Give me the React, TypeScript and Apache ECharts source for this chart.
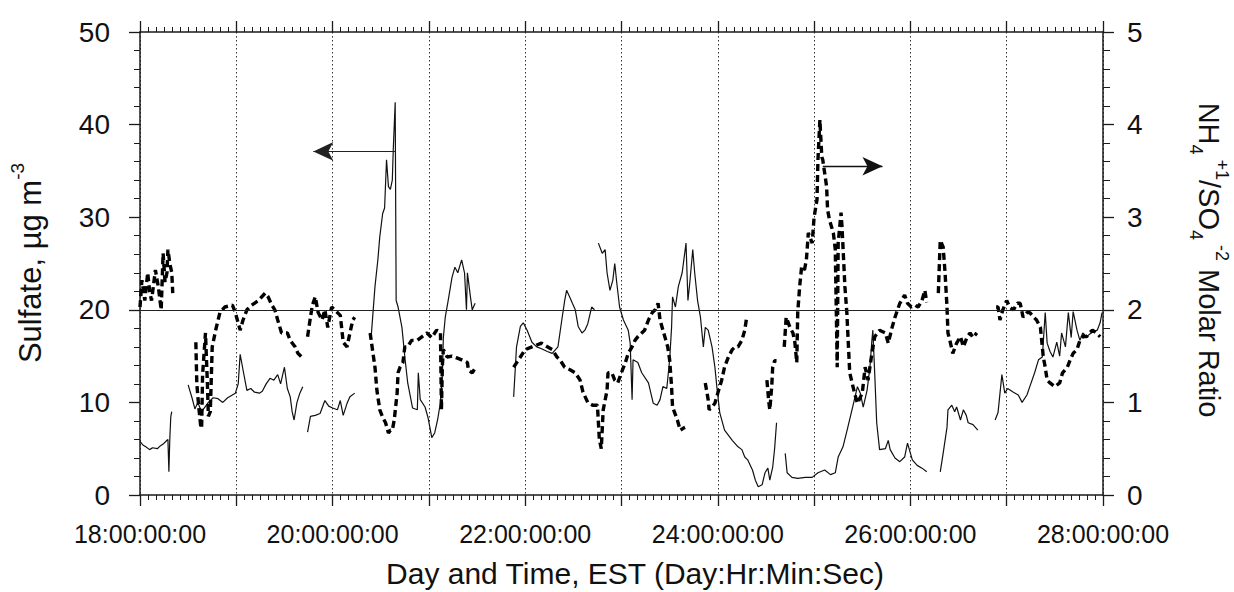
import React, { useEffect, useRef } from 'react';
import * as echarts from 'echarts';

const FONT = '"Liberation Sans", Arial, Helvetica, sans-serif';

// x axis: day of month; labelled every two days
const labelledDays = [18, 20, 22, 24, 26, 28];

// Sulfate (µg m-3), thin solid line, left axis. null = gap in record
const sulfatePts: [number, number | null][] = [
  [18.00, 5.8], [18.03, 5.4], [18.06, 5.2], [18.10, 4.9], [18.13, 5.1], [18.18, 5.0], [18.21, 5.3], [18.24, 5.5], [18.27, 5.8], [18.29, 6.0], [18.30, 2.5], [18.31, 6.2], [18.32, 8.5], [18.33, 9.0],
  [18.40, null],
  [18.50, 11.9], [18.54, 10.5], [18.57, 9.3], [18.60, 10.0], [18.64, 9.0], [18.71, 10.0], [18.76, 10.5], [18.81, 10.4], [18.86, 10.0], [18.91, 10.5], [18.99, 11.0], [19.02, 12.0], [19.04, 15.2], [19.07, 13.5], [19.11, 11.3], [19.15, 11.5], [19.19, 11.1], [19.24, 11.0], [19.27, 11.2], [19.31, 12.0], [19.35, 12.6], [19.39, 12.4], [19.43, 13.0], [19.46, 12.0], [19.50, 13.8], [19.53, 11.5], [19.56, 10.6], [19.58, 9.0], [19.60, 8.1], [19.63, 10.0], [19.66, 11.0], [19.69, 11.7],
  [19.72, null],
  [19.74, 6.8], [19.77, 8.5], [19.82, 8.6], [19.87, 8.8], [19.92, 10.2], [19.96, 9.6], [20.00, 9.4], [20.05, 9.2], [20.08, 10.2], [20.11, 8.6], [20.15, 9.9], [20.18, 10.6], [20.23, 11.0],
  [20.30, null],
  [20.40, 17.0], [20.44, 22.5], [20.47, 25.4], [20.49, 27.9], [20.52, 30.4], [20.54, 31.0], [20.56, 36.2], [20.58, 33.3], [20.60, 33.0], [20.62, 34.0], [20.63, 37.3], [20.65, 42.4], [20.66, 21.0], [20.68, 20.3], [20.72, 18.1], [20.75, 14.9], [20.78, 12.1], [20.83, 9.4], [20.88, 9.2], [20.89, 13.2], [20.91, 10.3], [20.96, 9.5], [20.99, 8.4], [21.03, 6.2], [21.06, 6.7], [21.09, 8.1], [21.12, 10.0], [21.14, 13.0], [21.15, 17.0], [21.17, 19.2], [21.20, 21.0], [21.24, 23.5], [21.27, 24.6], [21.30, 24.0], [21.34, 25.4], [21.37, 24.0], [21.39, 20.0], [21.40, 24.0], [21.43, 21.5], [21.45, 20.0], [21.48, 20.7],
  [21.70, null],
  [21.88, 10.6], [21.91, 16.0], [21.95, 18.2], [21.98, 18.6], [22.02, 17.8], [22.07, 16.5], [22.12, 16.0], [22.17, 15.8], [22.23, 15.5], [22.28, 15.3], [22.34, 16.0], [22.38, 18.9], [22.41, 21.0], [22.43, 22.1], [22.47, 21.2], [22.49, 20.7], [22.52, 20.0], [22.55, 18.2], [22.59, 17.5], [22.62, 17.8], [22.65, 18.5], [22.69, 20.3], [22.72, 20.0],
  [22.74, null],
  [22.76, 27.2], [22.80, 26.1], [22.83, 26.5], [22.85, 24.0], [22.88, 22.1], [22.91, 23.2], [22.93, 25.0], [22.95, 23.0], [22.98, 20.3], [23.02, 18.9], [23.07, 17.8], [23.09, 16.4], [23.11, 10.3], [23.12, 14.6], [23.17, 14.3], [23.21, 13.2], [23.28, 12.1], [23.33, 9.9], [23.37, 9.7], [23.40, 10.3], [23.43, 11.7], [23.47, 11.5], [23.50, 14.6], [23.52, 18.1], [23.53, 21.4], [23.56, 20.3], [23.59, 22.5], [23.63, 24.0], [23.67, 27.2], [23.69, 21.0], [23.71, 23.0], [23.74, 26.5], [23.76, 24.0], [23.79, 21.0], [23.82, 19.2], [23.85, 16.0], [23.87, 18.1], [23.90, 17.8], [23.94, 16.0], [23.97, 13.8], [23.99, 11.7], [24.02, 8.9], [24.07, 7.0], [24.15, 5.9], [24.21, 5.2], [24.25, 4.9], [24.28, 4.1], [24.31, 3.8], [24.36, 2.7], [24.39, 1.6], [24.42, 0.9], [24.46, 1.1], [24.49, 2.4], [24.52, 2.9], [24.54, 1.6], [24.57, 3.0], [24.59, 5.0], [24.61, 7.8],
  [24.65, null],
  [24.70, 4.5], [24.72, 2.4], [24.77, 1.9], [24.83, 1.8], [24.91, 1.9], [24.98, 1.9], [25.04, 2.4], [25.11, 2.7], [25.17, 2.2], [25.22, 2.4], [25.25, 4.1], [25.30, 5.2], [25.35, 7.3], [25.40, 9.5], [25.45, 11.7], [25.48, 11.0], [25.51, 9.5], [25.55, 11.3], [25.58, 13.8], [25.60, 16.7], [25.61, 17.8], [25.63, 13.0], [25.65, 7.8], [25.68, 4.9], [25.74, 5.0], [25.77, 5.9], [25.79, 4.9], [25.84, 4.0], [25.89, 3.6], [25.94, 4.1], [25.97, 5.6], [26.02, 3.8], [26.07, 3.2], [26.12, 2.9], [26.17, 2.5],
  [26.25, null],
  [26.31, 2.5], [26.34, 4.5], [26.38, 7.3], [26.39, 9.2], [26.43, 9.7], [26.46, 9.0], [26.48, 9.5], [26.52, 8.1], [26.55, 9.2], [26.58, 8.6], [26.60, 7.8], [26.65, 7.6], [26.70, 7.0],
  [26.80, null],
  [26.88, 8.1], [26.91, 8.9], [26.95, 13.0], [26.98, 11.0], [27.01, 11.5], [27.07, 11.1], [27.12, 10.8], [27.16, 10.0], [27.21, 10.8], [27.24, 11.7], [27.29, 13.2], [27.33, 14.6], [27.37, 14.9], [27.40, 19.7], [27.42, 16.4], [27.45, 15.5], [27.48, 14.9], [27.52, 16.5], [27.55, 15.0], [27.57, 17.5], [27.61, 16.0], [27.64, 19.7], [27.67, 17.0], [27.69, 19.8], [27.73, 17.8], [27.76, 16.7], [27.79, 17.5], [27.83, 17.1], [27.89, 17.6], [27.94, 17.8], [27.97, 18.6], [27.99, 19.7],
];

// NH4+/SO4= molar ratio, thick dashed line, right axis. null = gap
const ratioPts: [number, number | null][] = [
  [18.00, 2.03], [18.02, 2.32], [18.05, 2.1], [18.08, 2.4], [18.10, 2.2], [18.12, 2.1], [18.16, 2.43], [18.19, 2.25], [18.22, 2.0], [18.24, 2.61], [18.26, 2.3], [18.28, 2.4], [18.29, 2.65], [18.31, 2.5], [18.33, 2.4], [18.34, 2.18],
  [18.45, null],
  [18.58, 1.65], [18.59, 1.2], [18.61, 0.95], [18.63, 0.75], [18.64, 0.72], [18.65, 1.3], [18.68, 1.75], [18.70, 1.2], [18.71, 0.85], [18.73, 0.9], [18.75, 1.6], [18.79, 1.8], [18.83, 1.97], [18.88, 2.03], [18.96, 2.05], [18.99, 1.97], [19.04, 1.78], [19.07, 1.89], [19.11, 2.0], [19.16, 2.05], [19.23, 2.1], [19.30, 2.18], [19.33, 2.14], [19.37, 2.05], [19.40, 2.0], [19.43, 1.89], [19.47, 1.75], [19.53, 1.75], [19.56, 1.67], [19.61, 1.6], [19.64, 1.53], [19.68, 1.49],
  [19.71, null],
  [19.74, 1.71], [19.77, 1.92], [19.79, 2.05], [19.82, 2.14], [19.85, 1.97], [19.89, 1.89], [19.92, 2.0], [19.95, 1.81], [19.99, 2.03], [20.02, 2.0], [20.08, 1.94], [20.11, 1.65], [20.15, 1.6], [20.18, 1.75], [20.21, 1.89], [20.23, 1.92],
  [20.30, null],
  [20.39, 1.75], [20.41, 1.6], [20.44, 1.38], [20.46, 1.13], [20.49, 0.92], [20.52, 0.84], [20.55, 0.78], [20.58, 0.67], [20.60, 0.7], [20.62, 0.7], [20.64, 0.81], [20.67, 1.1], [20.68, 1.32], [20.70, 1.38], [20.73, 1.43], [20.75, 1.6], [20.78, 1.6], [20.82, 1.67], [20.88, 1.67], [20.93, 1.71], [20.98, 1.75], [21.03, 1.7], [21.08, 1.78], [21.12, 1.76], [21.13, 0.92], [21.14, 1.4], [21.15, 1.57], [21.19, 1.49], [21.24, 1.5], [21.29, 1.48], [21.34, 1.46], [21.40, 1.43], [21.41, 1.35], [21.45, 1.32], [21.48, 1.37],
  [21.70, null],
  [21.88, 1.38], [21.95, 1.49], [22.00, 1.57], [22.07, 1.6], [22.12, 1.62], [22.17, 1.64], [22.23, 1.6], [22.28, 1.57], [22.33, 1.49], [22.36, 1.46], [22.41, 1.38], [22.47, 1.35], [22.52, 1.32], [22.57, 1.24], [22.60, 1.11], [22.65, 1.0], [22.70, 0.97], [22.75, 0.97], [22.77, 0.6], [22.79, 0.5], [22.81, 0.92], [22.85, 1.13], [22.86, 1.32], [22.90, 1.32], [22.93, 1.24], [22.96, 1.21], [23.01, 1.35], [23.04, 1.43], [23.07, 1.53], [23.11, 1.6], [23.14, 1.67], [23.17, 1.71], [23.21, 1.75], [23.24, 1.78], [23.28, 1.89], [23.32, 1.97], [23.35, 2.0], [23.38, 2.07], [23.40, 1.89], [23.43, 1.78], [23.45, 1.71], [23.48, 1.6], [23.50, 1.46], [23.52, 1.17], [23.53, 0.95], [23.58, 0.81], [23.61, 0.7], [23.64, 0.72], [23.66, 0.73],
  [23.75, null],
  [23.87, 1.21], [23.90, 1.03], [23.91, 0.92], [23.94, 0.95], [23.97, 0.99], [24.00, 1.1], [24.04, 1.24], [24.07, 1.38], [24.11, 1.49], [24.15, 1.57], [24.18, 1.6], [24.21, 1.6], [24.25, 1.67], [24.28, 1.78], [24.30, 1.92],
  [24.40, null],
  [24.51, 1.24], [24.53, 1.0], [24.54, 0.92], [24.56, 1.17], [24.57, 1.38], [24.59, 1.45], [24.61, 1.45],
  [24.65, null],
  [24.69, 1.6], [24.71, 1.92], [24.75, 1.81], [24.78, 1.75], [24.80, 1.65], [24.82, 1.43], [24.83, 1.97], [24.85, 2.25], [24.87, 2.46], [24.90, 2.43], [24.92, 2.54], [24.94, 2.83], [24.98, 2.72], [25.00, 3.0], [25.03, 3.19], [25.04, 3.62], [25.06, 4.05], [25.08, 3.65], [25.09, 3.62], [25.13, 3.33], [25.14, 3.08], [25.16, 2.97], [25.20, 2.83], [25.22, 2.65], [25.24, 1.38], [25.25, 2.72], [25.28, 3.05], [25.29, 2.89], [25.30, 2.68], [25.32, 2.25], [25.34, 1.97], [25.35, 1.75], [25.37, 1.32],
  [25.42, 1.1], [25.45, 0.99], [25.50, 1.1], [25.53, 1.38], [25.56, 1.24], [25.60, 1.53], [25.63, 1.71], [25.68, 1.78], [25.74, 1.75], [25.77, 1.64], [25.81, 1.81], [25.84, 1.92], [25.89, 2.07], [25.94, 2.16], [25.97, 2.07], [26.01, 2.03], [26.05, 2.05], [26.08, 2.03], [26.12, 2.1], [26.15, 2.21], [26.17, 2.08],
  [26.23, null],
  [26.29, 2.18], [26.31, 2.75], [26.34, 2.68], [26.36, 2.4], [26.38, 2.03], [26.39, 1.75], [26.41, 1.67], [26.44, 1.53], [26.48, 1.64], [26.52, 1.71], [26.55, 1.6], [26.59, 1.71], [26.62, 1.75], [26.65, 1.7], [26.69, 1.75],
  [26.80, null],
  [26.89, 2.03], [26.91, 2.03], [26.93, 1.89], [26.96, 2.0], [27.00, 2.1], [27.03, 2.03], [27.07, 2.0], [27.11, 2.07], [27.14, 2.07], [27.17, 1.92], [27.21, 1.97], [27.24, 1.97], [27.28, 1.92], [27.31, 1.89], [27.35, 1.81], [27.38, 1.49], [27.40, 1.38], [27.42, 1.24], [27.45, 1.21], [27.50, 1.17], [27.55, 1.21], [27.58, 1.32], [27.63, 1.38], [27.66, 1.46], [27.69, 1.53], [27.73, 1.57], [27.76, 1.67], [27.79, 1.71], [27.83, 1.71], [27.86, 1.75], [27.89, 1.78], [27.93, 1.75], [27.97, 1.71],
];

// reference line (sulfate 20 = molar ratio 2) and the two arrows
const refLineSulfate = 20;
const sulfateArrow: [number, number][] = [[20.65, 37.1], [19.80, 37.1]];
const ratioArrow: [number, number][] = [[25.09, 3.55], [25.71, 3.55]];

const toData = (pts: [number, number | null][]) =>
  pts.map(([d, v]) => [d, v === null ? '-' : v]);

const AXIS = '#1a1a1a';

export default function App() {
  const ref = useRef<HTMLDivElement>(null);

  useEffect(() => {
    if (!ref.current) return;
    const chart = echarts.init(ref.current, undefined, { renderer: 'svg' });

    const xCommon = {
      type: 'value',
      min: 18,
      max: 28,
      interval: 1,
      axisLine: { show: true, onZero: false, lineStyle: { color: AXIS, width: 1.5 } },
      axisTick: { show: true, inside: false, length: 11, lineStyle: { color: AXIS, width: 1.3 } },
      minorTick: { show: true, splitNumber: 12, length: 5, lineStyle: { color: AXIS, width: 1 } },
    };

    const option: any = {
      animation: false,
      backgroundColor: '#ffffff',
      grid: { left: 140, right: 131, top: 32, bottom: 97, containLabel: false },
      xAxis: [
        {
          ...xCommon,
          position: 'bottom',
          axisLabel: {
            show: true,
            margin: 26,
            fontSize: 25,
            fontFamily: FONT,
            color: '#111',
            formatter: (v: number) => (labelledDays.includes(Math.round(v)) ? `${Math.round(v)}:00:00:00` : ''),
          },
          splitLine: { show: true, lineStyle: { color: '#333', width: 1, type: [1.5, 2.5] } },
        },
        {
          ...xCommon,
          position: 'top',
          axisLabel: { show: false },
          splitLine: { show: false },
        },
      ],
      yAxis: [
        {
          type: 'value',
          position: 'left',
          min: 0,
          max: 50,
          interval: 10,
          axisLine: { show: true, lineStyle: { color: AXIS, width: 1.5 } },
          axisTick: { show: true, inside: false, length: 11, lineStyle: { color: AXIS, width: 1.3 } },
          minorTick: { show: true, splitNumber: 5, length: 6, lineStyle: { color: AXIS, width: 1 } },
          axisLabel: { margin: 30, fontSize: 28, fontFamily: FONT, color: '#111' },
          splitLine: { show: false },
        },
        {
          type: 'value',
          position: 'right',
          min: 0,
          max: 5,
          interval: 1,
          axisLine: { show: true, lineStyle: { color: AXIS, width: 1.5 } },
          axisTick: { show: true, inside: false, length: 11, lineStyle: { color: AXIS, width: 1.3 } },
          minorTick: { show: true, splitNumber: 5, length: 7, lineStyle: { color: AXIS, width: 1 } },
          axisLabel: { margin: 24, fontSize: 28, fontFamily: FONT, color: '#111' },
          splitLine: { show: false },
        },
      ],
      series: [
        {
          name: 'Sulfate',
          type: 'line',
          xAxisIndex: 0,
          yAxisIndex: 0,
          data: toData(sulfatePts),
          showSymbol: false,
          symbol: 'none',
          connectNulls: false,
          lineStyle: { color: '#111', width: 1.2 },
          z: 3,
          markLine: {
            silent: true,
            symbol: ['none', 'none'],
            label: { show: false },
            lineStyle: { color: '#222', width: 1.2, type: 'solid' },
            data: [
              { yAxis: refLineSulfate },
              [
                { coord: sulfateArrow[0], symbol: 'none' },
                { coord: sulfateArrow[1], symbol: 'arrow', symbolSize: [14, 20] },
              ],
            ],
          },
        },
        {
          name: 'Molar ratio',
          type: 'line',
          xAxisIndex: 0,
          yAxisIndex: 1,
          data: toData(ratioPts),
          showSymbol: false,
          symbol: 'none',
          connectNulls: false,
          lineStyle: { color: '#000', width: 3.4, type: [7, 4], cap: 'butt' },
          z: 4,
          markLine: {
            silent: true,
            symbol: ['none', 'none'],
            label: { show: false },
            lineStyle: { color: '#111', width: 1.3, type: 'solid' },
            data: [
              [
                { coord: ratioArrow[0], symbol: 'none' },
                { coord: ratioArrow[1], symbol: 'arrow', symbolSize: [14, 20] },
              ],
            ],
          },
        },
      ],
      graphic: [
        {
          type: 'text',
          x: 30,
          y: 263,
          rotation: Math.PI / 2,
          style: {
            text: '{m|Sulfate, µg m}{s|-3}',
            align: 'center',
            verticalAlign: 'middle',
            fill: '#111',
            rich: {
              m: { fontSize: 31, fontFamily: FONT, lineHeight: 44, fill: '#111' },
              s: { fontSize: 19, fontFamily: FONT, lineHeight: 44, verticalAlign: 'top', fill: '#111' },
            },
          },
        },
        {
          type: 'text',
          x: 1209,
          y: 260,
          rotation: -Math.PI / 2,
          style: {
            text: '{m|NH}{b|4}{s| +1}{m|/SO}{b|4}{s| -2}{m| Molar Ratio}',
            align: 'center',
            verticalAlign: 'middle',
            fill: '#111',
            rich: {
              m: { fontSize: 29, fontFamily: FONT, lineHeight: 44, fill: '#111' },
              b: { fontSize: 18, fontFamily: FONT, lineHeight: 44, verticalAlign: 'bottom', fill: '#111' },
              s: { fontSize: 18, fontFamily: FONT, lineHeight: 44, verticalAlign: 'top', fill: '#111' },
            },
          },
        },
        {
          type: 'text',
          x: 635,
          y: 573,
          style: {
            text: 'Day and Time, EST (Day:Hr:Min:Sec)',
            align: 'center',
            verticalAlign: 'middle',
            fontSize: 30,
            fontFamily: FONT,
            fill: '#111',
          },
        },
      ],
    };

    chart.setOption(option);
    return () => chart.dispose();
  }, []);

  return (
    <div
      ref={ref}
      style={{ position: 'fixed', left: 0, top: 0, width: 1234, height: 592, background: '#fff' }}
    />
  );
}
